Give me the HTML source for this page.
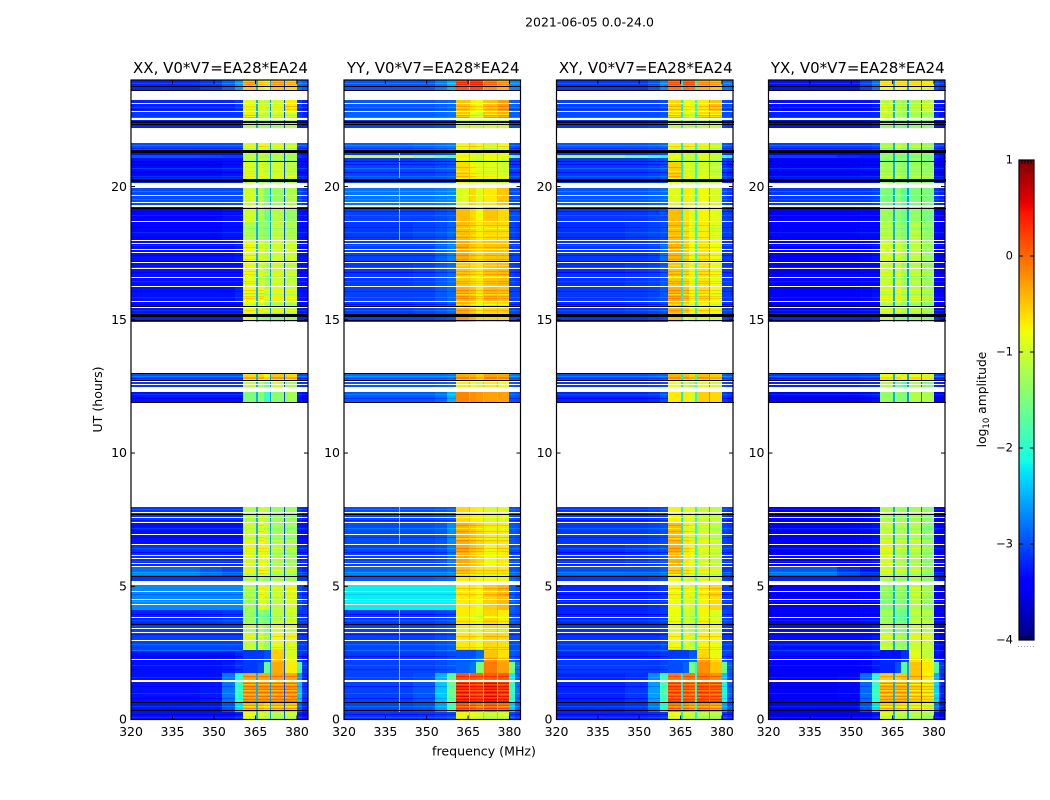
<!DOCTYPE html>
<html lang="en">
<head>
<meta charset="utf-8">
<title>2021-06-05 0.0-24.0</title>
<style>
html,body{margin:0;padding:0;background:#fff;width:1050px;height:800px;overflow:hidden}
svg{display:block}
text{font-family:"DejaVu Sans","Liberation Sans",sans-serif;fill:#000}
</style>
</head>
<body>
<svg id="chart" width="1050" height="800" viewBox="0 0 1050 800" xmlns="http://www.w3.org/2000/svg">
  <rect x="0" y="0" width="1050" height="800" fill="#fff"/>
  <text x="589.5" y="26.5" font-size="12.5" text-anchor="middle">2021-06-05 0.0-24.0</text>
  <text x="484" y="755.5" font-size="12.6" text-anchor="middle">frequency (MHz)</text>
  <text x="0" y="0" font-size="12.6" text-anchor="middle" transform="translate(102 399.5) rotate(-90)">UT (hours)</text>
  <text x="0" y="0" font-size="12.3" text-anchor="middle" transform="translate(986 399.5) rotate(-90)">log<tspan font-size="8.5" dy="3">10</tspan><tspan dy="-3"> amplitude</tspan></text>
  <g id="panels"></g>
  <g id="colorbar"></g>
</svg>
<script>
// Frequency bin edges (MHz); 14 bins: bg, bg, ramp, ramp, A, notch, B1, B2, notch, C, notch, D, E1, E2
const freqEdges = [320,345,353,357.5,360.5,365.2,365.8,368,370.3,370.8,375.3,375.8,380,382,384];
// Time row edges (UT hours), top to bottom
const timeEdges = [24,23.62,23.24,22.83,22.49,22.19,21.63,21.37,21.18,21.08,20.95,20.32,19.98,19.23,18.70,17.99,17.16,16.26,15.70,15.25,14.91,12.99,12.73,12.28,11.90,7.96,7.40,6.57,5.75,5.33,5.03,4.12,3.53,2.59,2.29,2.14,1.76,1.46,0.64,0.30,0];
const xTickValues = [320,335,350,365,380];
const yTickValues = [0,5,10,15,20];
const colorTickValues = [1,0,-1,-2,-3,-4];
const panelTitles = ["XX, V0*V7=EA28*EA24","YY, V0*V7=EA28*EA24","XY, V0*V7=EA28*EA24","YX, V0*V7=EA28*EA24"];

// log10 amplitude per time row: [bg, bg, ramp, ramp, A, B1, B2, C, D, E1, E2]; null = flagged row
const ampXX = [
[-3.2,-3.1,-2.9,-2.6,-0.5,-0.7,-0.8,-0.5,-0.6,-2.8,-2.9],
null,
[-3.2,-3.2,-3.2,-3.1,-0.9,-1.0,-1.1,-1.0,-0.7,-3.1,-3.2],
[-3.1,-3.1,-3.1,-3.1,-0.7,-0.9,-1.0,-0.9,-0.9,-3.1,-3.2],
[-3.2,-3.2,-3.2,-3.2,-1.2,-1.3,-1.3,-1.3,-1.2,-3.2,-3.2],
null,
[-3.0,-3.0,-3.0,-3.0,-1.0,-0.8,-0.9,-1.0,-1.1,-3.0,-3.0],
[-3.3,-3.3,-3.3,-3.3,-1.1,-1.0,-1.1,-1.1,-1.2,-3.3,-3.3],
[-2.95,-3.0,-3.05,-3.05,-1.1,-1.2,-1.3,-1.2,-1.3,-3.1,-3.2],
[-3.3,-3.3,-3.3,-3.3,-1.1,-1.0,-1.1,-1.1,-1.2,-3.3,-3.3],
[-3.35,-3.35,-3.3,-3.3,-0.95,-0.95,-1.05,-1.0,-1.1,-3.3,-3.3],
[-3.2,-3.2,-3.2,-3.2,-1.1,-1.1,-1.2,-1.2,-1.2,-3.2,-3.2],
[-3.0,-3.0,-3.0,-3.0,-1.0,-1.1,-1.5,-1.3,-1.2,-3.0,-3.1],
[-3.35,-3.35,-3.3,-3.3,-1.0,-1.2,-1.5,-1.15,-1.35,-3.3,-3.3],
[-3.35,-3.35,-3.3,-3.3,-1.2,-1.3,-1.4,-1.1,-1.2,-3.3,-3.3],
[-3.3,-3.3,-3.3,-3.25,-0.85,-0.95,-1.1,-1.0,-1.0,-3.3,-3.3],
[-3.3,-3.3,-3.3,-3.3,-0.85,-1.0,-1.2,-1.0,-1.1,-3.3,-3.3],
[-3.3,-3.3,-3.3,-3.2,-0.8,-0.85,-1.1,-1.0,-1.05,-3.3,-3.3],
[-3.3,-3.3,-3.3,-3.3,-0.85,-0.9,-1.1,-1.05,-1.1,-3.3,-3.3],
[-3.2,-3.2,-3.2,-3.2,-0.9,-1.3,-1.4,-1.5,-1.3,-3.2,-3.2],
null,
[-3.0,-3.0,-3.0,-3.0,-0.6,-0.6,-0.8,-0.5,-0.6,-3.0,-3.0],
[-3.1,-3.1,-3.1,-3.1,-1.1,-1.2,-1.6,-1.0,-1.3,-3.1,-3.1],
[-3.3,-3.3,-3.3,-3.3,-1.5,-1.4,-1.9,-1.4,-1.25,-3.3,-3.4],
null,
[-3.1,-3.1,-3.1,-3.1,-1.2,-1.0,-1.1,-1.3,-1.3,-3.1,-3.2],
[-3.3,-3.3,-3.3,-3.3,-1.0,-0.85,-1.0,-1.25,-1.3,-3.3,-3.3],
[-3.15,-3.15,-3.15,-3.15,-0.95,-0.85,-0.9,-1.2,-1.3,-3.2,-3.2],
[-2.85,-2.95,-3.05,-3.05,-1.0,-0.8,-0.9,-1.15,-1.2,-3.1,-3.2],
[-3.1,-3.1,-3.1,-3.1,-1.2,-1.2,-1.4,-1.2,-1.3,-3.1,-3.1],
[-2.7,-2.7,-2.7,-2.7,-1.3,-0.9,-1.0,-1.1,-0.95,-3.0,-3.1],
[-3.2,-3.15,-3.1,-3.1,-1.3,-1.4,-1.5,-1.1,-1.0,-3.1,-3.1],
[-3.05,-3.05,-3.05,-3.05,-1.05,-1.05,-1.3,-0.85,-0.9,-3.1,-3.1],
[-3.3,-3.3,-3.3,-3.2,-3.1,-3.1,-3.0,-0.55,-0.95,-3.1,-3.2],
[-3.3,-3.3,-3.3,-3.2,-3.1,-3.1,-3.0,-0.5,-0.85,-3.1,-3.2],
[-3.3,-3.3,-3.25,-3.15,-3.1,-3.0,-1.6,-0.35,-0.7,-1.8,-3.1],
[-3.3,-3.3,-2.8,-2.0,-0.35,-0.35,-0.35,-0.3,-0.35,-2.6,-3.2],
[-3.3,-3.25,-2.8,-1.9,-0.25,-0.25,-0.25,-0.25,-0.25,-2.4,-3.1],
[-3.3,-3.3,-3.0,-2.3,-0.45,-0.5,-0.6,-0.45,-0.5,-2.9,-3.2],
[-3.3,-3.3,-3.3,-3.2,-0.8,-0.9,-1.0,-1.1,-1.0,-3.2,-3.3]
];
const ampYY = [
[-2.95,-2.95,-2.75,-2.5,0.1,0.15,0.15,-0.2,-0.4,-2.7,-2.7],
null,
[-2.95,-2.95,-2.9,-2.85,-0.5,-0.7,-0.8,-0.5,-0.3,-2.9,-2.9],
[-2.9,-2.9,-2.85,-2.8,-0.5,-0.8,-0.9,-0.5,-0.4,-2.9,-2.9],
[-3.05,-3.05,-3.0,-3.0,-1.1,-1.0,-1.1,-1.0,-1.0,-3.0,-3.0],
null,
[-2.9,-2.85,-2.8,-2.75,-0.8,-0.7,-0.8,-1.0,-0.8,-2.95,-3.0],
[-3.1,-3.05,-3.0,-2.95,-0.8,-0.9,-1.0,-0.8,-0.9,-3.05,-3.1],
[-0.9,-1.2,-1.4,-1.6,-0.7,-0.9,-1.0,-0.8,-0.9,-1.5,-1.7],
[-3.1,-3.05,-3.0,-2.95,-0.8,-0.9,-1.0,-0.8,-0.9,-3.05,-3.1],
[-3.05,-3.05,-3.0,-2.95,-0.6,-0.75,-0.9,-0.9,-1.0,-3.1,-3.1],
[-3.0,-3.0,-3.0,-2.95,-0.8,-0.9,-1.0,-1.0,-1.0,-3.05,-3.1],
[-2.8,-2.8,-2.75,-2.7,-0.9,-0.6,-0.9,-0.7,-0.5,-3.0,-3.0],
[-3.05,-3.05,-3.0,-2.95,-0.45,-0.6,-0.8,-0.5,-0.6,-3.0,-3.0],
[-3.1,-3.05,-3.0,-2.9,-0.45,-0.55,-0.7,-0.6,-0.6,-3.05,-3.1],
[-3.05,-3.05,-2.9,-2.75,-0.35,-0.5,-0.6,-0.5,-0.5,-3.05,-3.05],
[-3.1,-3.05,-2.95,-2.85,-0.5,-0.6,-0.7,-0.5,-0.45,-3.05,-3.1],
[-3.05,-3.05,-2.95,-2.85,-0.4,-0.5,-0.7,-0.45,-0.5,-3.05,-3.05],
[-3.1,-3.05,-3.0,-2.9,-0.4,-0.55,-0.75,-0.6,-0.6,-3.05,-3.1],
[-3.05,-3.05,-3.0,-2.95,-0.25,-0.4,-0.6,-0.6,-0.6,-3.0,-3.0],
null,
[-2.85,-2.85,-2.85,-2.8,-0.35,-0.4,-0.55,-0.3,-0.35,-2.8,-2.85],
[-2.95,-2.95,-2.9,-2.85,-0.7,-0.8,-1.0,-0.7,-0.8,-2.9,-2.95],
[-2.95,-2.95,-2.85,-2.5,-0.15,-0.2,-0.25,-0.3,-0.3,-2.95,-3.0],
null,
[-3.0,-3.0,-2.95,-2.9,-0.6,-0.7,-0.75,-0.95,-0.9,-2.95,-3.0],
[-3.0,-3.0,-2.95,-2.7,-0.4,-0.5,-0.6,-0.7,-0.7,-2.95,-3.0],
[-3.05,-3.05,-3.0,-2.8,-0.35,-0.5,-0.6,-0.8,-0.7,-3.0,-3.0],
[-2.9,-2.9,-2.9,-2.85,-0.5,-0.6,-0.7,-0.7,-0.7,-2.95,-3.0],
[-2.95,-2.95,-2.9,-2.85,-0.7,-0.7,-0.8,-0.8,-0.8,-2.85,-2.95],
[-2.2,-2.2,-2.2,-2.2,-0.7,-0.7,-0.8,-0.55,-0.45,-2.9,-3.0],
[-3.1,-3.1,-3.05,-3.0,-0.7,-0.75,-0.85,-0.6,-0.7,-2.95,-3.0],
[-3.05,-3.05,-3.0,-2.95,-0.7,-0.7,-0.8,-0.6,-0.65,-3.0,-3.0],
[-3.1,-3.1,-3.05,-3.0,-3.0,-3.0,-2.85,-0.5,-0.65,-2.95,-3.0],
[-3.05,-3.05,-3.0,-2.95,-2.95,-2.9,-2.75,-0.2,-0.4,-2.85,-3.0],
[-3.05,-3.05,-3.0,-2.95,-2.9,-2.8,-1.5,-0.1,-0.3,-1.5,-2.8],
[-3.05,-3.0,-2.5,-1.7,0.1,0.05,0.0,0.05,0.05,-2.2,-2.9],
[-3.05,-2.95,-2.4,-1.6,0.3,0.25,0.22,0.35,0.25,-1.9,-2.8],
[-3.05,-3.0,-2.6,-1.9,0.1,0.0,-0.1,0.05,-0.05,-2.4,-2.9],
[-3.1,-3.1,-3.05,-3.0,-0.75,-0.8,-0.9,-1.0,-0.95,-3.0,-3.1]
];
const ampXY = [
[-3.1,-3.1,-2.95,-2.7,-0.1,-0.05,-0.1,-0.4,-0.5,-2.8,-2.8],
null,
[-3.05,-3.05,-3.05,-3.0,-0.6,-0.8,-0.9,-0.7,-0.5,-3.0,-3.0],
[-3.0,-3.0,-3.0,-2.95,-0.6,-0.8,-0.9,-0.6,-0.6,-3.0,-3.0],
[-3.1,-3.1,-3.05,-3.05,-1.1,-1.1,-1.2,-1.1,-1.1,-3.05,-3.1],
null,
[-2.95,-2.95,-2.9,-2.85,-0.8,-0.75,-0.85,-0.9,-1.1,-2.95,-3.0],
[-3.1,-3.1,-3.05,-3.0,-0.9,-1.0,-1.1,-0.9,-1.1,-3.05,-3.1],
[-1.2,-1.5,-1.8,-2.0,-0.8,-1.0,-1.1,-0.9,-1.1,-1.8,-2.0],
[-3.1,-3.1,-3.05,-3.0,-0.9,-1.0,-1.1,-0.9,-1.1,-3.05,-3.1],
[-3.1,-3.1,-3.05,-3.0,-0.55,-0.9,-1.0,-0.95,-1.1,-3.1,-3.2],
[-3.1,-3.1,-3.05,-3.0,-0.8,-1.0,-1.1,-1.1,-1.1,-3.1,-3.2],
[-2.95,-2.95,-2.9,-2.85,-0.9,-0.7,-0.95,-0.8,-0.95,-3.0,-3.1],
[-3.1,-3.1,-3.05,-3.0,-0.45,-0.65,-0.9,-0.75,-0.9,-3.05,-3.1],
[-3.15,-3.1,-3.05,-3.0,-0.45,-0.6,-0.85,-0.7,-0.9,-3.1,-3.1],
[-3.1,-3.1,-3.05,-2.85,-0.4,-0.55,-0.8,-0.65,-0.8,-3.1,-3.1],
[-3.15,-3.1,-3.05,-2.95,-0.5,-0.6,-0.85,-0.65,-0.8,-3.1,-3.1],
[-3.1,-3.1,-3.05,-2.95,-0.4,-0.5,-0.8,-0.65,-0.8,-3.1,-3.1],
[-3.15,-3.1,-3.05,-3.0,-0.45,-0.55,-0.85,-0.7,-0.85,-3.1,-3.1],
[-3.1,-3.1,-3.05,-3.0,-0.5,-0.8,-1.0,-0.9,-1.0,-3.05,-3.1],
null,
[-3.0,-3.0,-2.95,-2.9,-0.4,-0.45,-0.6,-0.45,-0.55,-2.9,-2.95],
[-3.1,-3.1,-3.05,-3.0,-0.8,-1.0,-1.3,-0.85,-1.0,-3.0,-3.05],
[-3.2,-3.2,-3.15,-3.0,-0.7,-0.7,-0.95,-0.55,-0.6,-3.1,-3.2],
null,
[-3.1,-3.1,-3.05,-3.0,-0.75,-0.85,-0.9,-1.05,-1.1,-3.05,-3.1],
[-3.1,-3.1,-3.05,-3.0,-0.45,-0.7,-0.85,-0.95,-1.1,-3.05,-3.1],
[-3.15,-3.1,-3.05,-3.0,-0.4,-0.7,-0.85,-1.0,-1.1,-3.1,-3.1],
[-3.0,-3.0,-3.0,-2.95,-0.55,-0.7,-0.85,-0.9,-1.0,-3.1,-3.1],
[-3.1,-3.1,-3.05,-3.0,-0.8,-0.9,-1.05,-0.95,-1.0,-3.05,-3.1],
[-3.2,-3.2,-3.15,-3.1,-0.8,-0.85,-1.0,-0.75,-0.6,-3.1,-3.1],
[-3.2,-3.2,-3.15,-3.1,-0.8,-0.95,-1.1,-0.75,-0.9,-3.05,-3.1],
[-3.1,-3.1,-3.1,-3.05,-0.8,-0.9,-1.1,-0.75,-0.8,-3.1,-3.1],
[-3.2,-3.2,-3.15,-3.1,-3.1,-3.1,-2.95,-0.6,-0.85,-3.05,-3.1],
[-3.1,-3.1,-3.1,-3.05,-3.0,-3.0,-2.85,-0.3,-0.6,-2.95,-3.1],
[-3.1,-3.1,-3.1,-3.05,-3.0,-2.9,-1.5,-0.2,-0.5,-1.6,-2.9],
[-3.2,-3.15,-2.7,-1.9,-0.1,-0.1,-0.1,-0.1,-0.2,-2.4,-3.0],
[-3.2,-3.1,-2.6,-1.8,0.1,0.05,0.0,0.1,0.05,-2.1,-2.9],
[-3.2,-3.15,-2.8,-2.1,-0.1,-0.2,-0.3,-0.2,-0.3,-2.6,-3.0],
[-3.2,-3.2,-3.15,-3.1,-0.8,-0.9,-1.0,-1.1,-1.1,-3.1,-3.2]
];
const ampYX = [
[-3.3,-3.3,-3.05,-2.8,-0.85,-0.8,-0.85,-0.85,-0.95,-3.0,-3.1],
null,
[-3.3,-3.3,-3.3,-3.25,-1.1,-1.2,-1.3,-1.2,-1.1,-3.25,-3.3],
[-3.2,-3.2,-3.2,-3.2,-0.95,-1.1,-1.2,-1.15,-1.2,-3.2,-3.3],
[-3.3,-3.3,-3.3,-3.25,-1.35,-1.4,-1.5,-1.4,-1.4,-3.25,-3.3],
null,
[-3.05,-3.05,-3.05,-3.0,-1.3,-1.1,-1.3,-1.25,-1.35,-3.05,-3.1],
[-3.4,-3.4,-3.35,-3.35,-1.35,-1.3,-1.4,-1.3,-1.4,-3.35,-3.4],
[-3.05,-3.15,-3.2,-3.2,-1.35,-1.5,-1.6,-1.5,-1.5,-3.2,-3.3],
[-3.4,-3.4,-3.35,-3.35,-1.35,-1.3,-1.4,-1.3,-1.4,-3.35,-3.4],
[-3.4,-3.4,-3.35,-3.35,-1.25,-1.25,-1.4,-1.3,-1.35,-3.35,-3.4],
[-3.3,-3.3,-3.3,-3.25,-1.3,-1.3,-1.4,-1.4,-1.4,-3.25,-3.3],
[-3.1,-3.1,-3.1,-3.05,-1.5,-1.4,-1.7,-1.5,-1.5,-3.1,-3.2],
[-3.4,-3.4,-3.35,-3.35,-1.3,-1.4,-1.6,-1.35,-1.5,-3.35,-3.4],
[-3.4,-3.4,-3.35,-3.35,-1.15,-1.25,-1.45,-1.15,-1.35,-3.35,-3.4],
[-3.4,-3.4,-3.35,-3.3,-1.0,-0.95,-1.25,-1.1,-1.3,-3.35,-3.4],
[-3.4,-3.4,-3.35,-3.35,-1.05,-1.0,-1.3,-1.15,-1.3,-3.35,-3.4],
[-3.4,-3.4,-3.35,-3.3,-1.05,-0.95,-1.25,-1.15,-1.3,-3.35,-3.4],
[-3.4,-3.4,-3.35,-3.35,-1.1,-1.05,-1.3,-1.2,-1.35,-3.35,-3.4],
[-3.2,-3.2,-3.2,-3.15,-1.05,-1.4,-1.5,-1.4,-1.45,-3.2,-3.3],
null,
[-3.1,-3.1,-3.05,-3.05,-0.85,-0.85,-1.0,-0.85,-0.95,-3.05,-3.1],
[-3.2,-3.2,-3.15,-3.15,-1.2,-1.5,-1.8,-1.2,-1.5,-3.15,-3.2],
[-3.4,-3.4,-3.35,-3.3,-1.35,-1.4,-1.5,-1.15,-1.2,-3.4,-3.4],
null,
[-3.4,-3.4,-3.35,-3.3,-1.2,-1.25,-1.3,-1.25,-1.4,-3.35,-3.4],
[-3.4,-3.4,-3.35,-3.3,-1.05,-1.15,-1.2,-1.15,-1.4,-3.35,-3.4],
[-3.4,-3.4,-3.35,-3.3,-1.0,-1.15,-1.25,-1.2,-1.4,-3.35,-3.4],
[-2.95,-3.15,-3.3,-3.3,-1.05,-1.1,-1.2,-1.15,-1.4,-3.35,-3.4],
[-3.2,-3.2,-3.2,-3.15,-1.2,-1.3,-1.4,-1.2,-1.4,-3.2,-3.3],
[-3.4,-3.4,-3.35,-3.35,-1.45,-1.4,-1.5,-1.15,-1.35,-3.35,-3.4],
[-3.4,-3.4,-3.35,-3.35,-1.25,-1.5,-1.6,-1.1,-1.15,-3.35,-3.4],
[-3.3,-3.3,-3.3,-3.25,-1.1,-1.25,-1.4,-1.0,-1.05,-3.3,-3.4],
[-3.3,-3.3,-3.3,-3.25,-3.3,-3.3,-3.15,-0.9,-1.1,-3.3,-3.4],
[-3.4,-3.4,-3.35,-3.25,-3.2,-3.2,-3.1,-0.65,-0.85,-3.2,-3.3],
[-3.4,-3.4,-3.35,-3.25,-3.2,-3.0,-1.7,-0.5,-0.7,-1.8,-3.1],
[-3.4,-3.35,-2.85,-2.0,-0.55,-0.55,-0.5,-0.5,-0.75,-2.5,-3.2],
[-3.4,-3.35,-2.85,-1.9,-0.4,-0.4,-0.4,-0.55,-0.65,-2.3,-3.2],
[-3.4,-3.4,-3.0,-2.3,-0.55,-0.6,-0.65,-0.75,-0.85,-2.8,-3.3],
[-3.4,-3.4,-3.35,-3.25,-0.9,-1.0,-1.1,-1.1,-1.2,-3.3,-3.4]
];
const panelAmps = [ampXX, ampYY, ampXY, ampYX];
// Notch (between sub-band) levels per panel: three gaps
const notchXX = [-2.5,-2.6,-3.0];
const notchYY = [-2.0,-1.9,-2.1];
const notchXY = [-2.2,-2.1,-2.4];
const notchYX = [-2.5,-2.6,-2.9];
const panelNotches = [notchXX, notchYY, notchXY, notchYX];
// Flagged (white) narrow time spans: [start, end] in UT hours
const flaggedSpans = [[23.13,23.09],[22.83,22.79],[22.57,22.49],[20.15,19.98],[19.68,19.64],[19.44,19.40],[19.30,19.23],[18.72,18.68],[17.99,17.95],[17.87,17.83],[17.65,17.61],[17.54,17.50],[17.16,17.12],[16.94,16.90],[16.60,16.56],[16.26,16.22],[15.72,15.68],[15.49,15.45],[12.69,12.65],[12.58,12.54],[12.47,12.43],[12.43,12.29],[7.77,7.73],[7.60,7.56],[7.40,7.36],[6.98,6.94],[6.57,6.53],[6.18,6.14],[6.06,6.02],[5.86,5.82],[5.75,5.71],[5.18,5.03],[4.83,4.79],[4.53,4.49],[4.34,4.30],[3.85,3.81],[3.44,3.40],[3.29,3.25],[2.99,2.95],[2.28,2.24],[1.50,1.43],[0.03,0.0]];
// Zero-amplitude (black) time spans: [start, end] in UT hours
const blackSpans = [[23.77,23.73],[23.64,23.59],[22.47,22.40],[22.36,22.32],[21.37,21.25],[20.95,20.91],[20.30,20.17],[19.21,19.17],[17.22,17.18],[15.53,15.49],[15.23,15.13],[14.98,14.95],[13.0,12.95],[12.73,12.69],[11.9,11.87],[7.72,7.68],[5.37,5.33],[3.59,3.55],[0.64,0.60],[0.34,0.30]];
// Brighter streak times inside the active sub-bands (UT hours)
const bandBrightHours = [23.92,23.85,23.02,22.93,22.68,22.62,21.52,20.75,20.52,20.40,18.55,18.32,18.1,17.75,17.42,17.3,16.82,16.72,16.47,16.38,16.12,16.02,15.9,15.82,15.35,12.87,12.8,7.3,7.18,7.06,6.85,6.72,6.45,6.33,5.62,5.5,4.95,4.7,3.7,3.15,2.72,2.63,1.62,1.38,1.27,1.15,1.02,0.9,0.78,0.7,0.55,0.45];
const bandBrightDeltas = [0.28,0.25,0.25,0.28];
// Dimmer streak times inside the active sub-bands (UT hours)
const bandDimHours = [23.0,22.72,21.45,21.0,20.6,18.45,18.2,17.65,17.05,16.65,15.95,15.6,12.78,7.2,6.8,6.25,5.45,4.6,3.9,3.35,1.33,1.1,0.95,0.83,0.5,0.15];
const bandDimDeltas = [-0.22,-0.22,-0.22,-0.22];
// Background ripple times and levels (UT hours, log10 offset)
const bgRippleHours = [23.9,23.45,23.0,22.9,22.6,21.55,21.45,20.85,20.7,20.55,20.4,19.85,19.7,19.55,19.1,18.95,18.5,18.3,18.1,17.8,17.45,17,16.8,16.45,16.1,15.85,15.6,15.35,12.9,12.8,12.2,12.05,7.9,7.5,7.2,6.85,6.45,6.3,5.95,5.55,5.45,4.7,4.45,3.95,3.75,3.2,2.85,2.6,2.4,2.05,1.9,1.6,1.25,1.0,0.8,0.5,0.2,0.1];
const bgRippleLevels = [0.25,-0.2,0.2,-0.2,0.2,0.25,-0.2,-0.2,0.25,-0.2,0.2,0.25,-0.25,0.2,-0.2,0.2,-0.2,0.2,-0.2,0.2,-0.2,0.2,-0.2,0.2,-0.2,0.2,-0.2,0.2,0.25,-0.2,0.2,-0.2,0.2,-0.2,0.2,-0.2,0.2,-0.2,0.2,0.3,0.2,-0.2,0.2,-0.2,0.2,-0.2,0.2,0.25,-0.2,0.2,-0.2,0.2,-0.2,0.2,-0.2,0.2,-0.2,0.2];
// Narrowband RFI on YY only: frequency (MHz), level, and the row indices where it shows
const rfiFreqYY = [339.9];
const rfiLevelYY = [-2.1];
const rfiRowsYY = [7,9,10,12,13,14,25,26,31,32,33,34,35,36,37,38];

const SVGNS = "http://www.w3.org/2000/svg";
const panelBoxes = [[131,308],[344,520.5],[556.5,733],[768.5,945]];
const plotTop = 80, plotBottom = 719.5;
const fMin = 320, fMax = 384, tMin = 0, tMax = 24;
const cbLeft = 1019, cbRight = 1034, cbTop = 160, cbBottom = 640, vMin = -4, vMax = 1;

function xScale(box, f){ return box[0] + (f - fMin) / (fMax - fMin) * (box[1] - box[0]); }
function yScale(t){ return plotBottom - (t - tMin) / (tMax - tMin) * (plotBottom - plotTop); }
function cScale(v){ return cbBottom - (v - vMin) / (vMax - vMin) * (cbBottom - cbTop); }
function ramp(t, pts){
  for (let i = 1; i < pts.length; i++) {
    if (t <= pts[i][0]) {
      const a = pts[i-1], b = pts[i];
      return a[1] + (b[1]-a[1]) * (t-a[0]) / (b[0]-a[0]);
    }
  }
  return pts[pts.length-1][1];
}
function jet(v){
  const t = Math.max(0, Math.min(1, (v - vMin) / (vMax - vMin)));
  const r = ramp(t, [[0,0],[0.35,0],[0.66,1],[0.89,1],[1,0.5]]);
  const g = ramp(t, [[0,0],[0.125,0],[0.375,1],[0.64,1],[0.91,0],[1,0]]);
  const b = ramp(t, [[0,0.5],[0.11,1],[0.34,1],[0.65,0],[1,0]]);
  return "rgb(" + Math.round(r*255) + "," + Math.round(g*255) + "," + Math.round(b*255) + ")";
}
function mk(tag, attrs, parent){
  const el = document.createElementNS(SVGNS, tag);
  for (const k in attrs) el.setAttribute(k, attrs[k]);
  parent.appendChild(el);
  return el;
}
function cellValues(row, notch){
  return [row[0],row[1],row[2],row[3],row[4],
    Math.min(notch[0], row[4], row[5]) , row[5], row[6],
    Math.min(notch[1], row[6]), row[7],
    Math.min(notch[2], row[7]), row[8], row[9], row[10]];
}
function rowAt(t){
  for (let i = 0; i < timeEdges.length - 1; i++) {
    if (t <= timeEdges[i] && t > timeEdges[i+1]) return i;
  }
  return -1;
}
// indices of cells (14-bin layout) that are active sub-bands / background
const bandCells = [4,6,7,9,11];
const bgCells = [0,1,2,3,12,13];

const panelsRoot = document.getElementById("panels");
panelBoxes.forEach(function(box, p){
  const g = mk("g", {}, panelsRoot);
  
  
  const cells = mk("g", {"shape-rendering":"crispEdges"}, g);
  
  
  function cellX(c){ return [Math.round(xScale(box, freqEdges[c])), Math.round(xScale(box, freqEdges[c+1]))]; }
  panelAmps[p].forEach(function(row, r){
    if (row === null) return;
    const y0 = Math.round(yScale(timeEdges[r])), y1 = Math.round(yScale(timeEdges[r+1]));
    cellValues(row, panelNotches[p]).forEach(function(v, c){
      const xs = cellX(c);
      const cell = mk("rect", {x:xs[0], y:y0, width:Math.max(1,xs[1]-xs[0]), height:Math.max(1,y1-y0), fill:jet(v)}, cells);
      
      
    });
  });
  function drawBandStreak(t, delta){
    const r = rowAt(t);
    if (r < 0 || panelAmps[p][r] === null) return;
    const vals = cellValues(panelAmps[p][r], panelNotches[p]);
    bandCells.forEach(function(c){
      if (vals[c] < -2) return;
      const xs = cellX(c);
      const s = mk("rect", {x:xs[0], y:Math.round(yScale(t)), width:Math.max(1,xs[1]-xs[0]), height:1, fill:jet(vals[c]+delta)}, cells);
      
      
    });
  }
  bandBrightHours.forEach(function(t){ drawBandStreak(t, bandBrightDeltas[p]); });
  bandDimHours.forEach(function(t){ drawBandStreak(t, bandDimDeltas[p]); });
  bgRippleHours.forEach(function(t, i){
    const r = rowAt(t);
    if (r < 0 || panelAmps[p][r] === null) return;
    const vals = cellValues(panelAmps[p][r], panelNotches[p]);
    bgCells.forEach(function(c){
      const xs = cellX(c);
      const s = mk("rect", {x:xs[0], y:Math.round(yScale(t)), width:Math.max(1,xs[1]-xs[0]), height:1, fill:jet(vals[c]+bgRippleLevels[i])}, cells);
      
      
    });
  });
  if (p === 1) {
    rfiRowsYY.forEach(function(r){
      const y0 = Math.round(yScale(timeEdges[r])), y1 = Math.round(yScale(timeEdges[r+1]));
      const line = mk("rect", {x:Math.round(xScale(box, rfiFreqYY[0])), y:y0, width:1, height:Math.max(1,y1-y0), fill:jet(rfiLevelYY[0])}, cells);
      
      
    });
  }
  flaggedSpans.forEach(function(s){
    const y0 = Math.round(yScale(s[0]));
    const h = Math.max(1, Math.round(yScale(s[1]) - yScale(s[0])));
    const band = mk("rect", {x:Math.round(box[0]), y:y0, width:Math.round(box[1]-box[0]), height:h, fill:"#fff"}, cells);
    
    
  });
  blackSpans.forEach(function(s){
    const y0 = Math.round(yScale(s[0]));
    const h = Math.max(1, Math.round(yScale(s[1]) - yScale(s[0])));
    const band = mk("rect", {x:Math.round(box[0]), y:y0, width:Math.round(box[1]-box[0]), height:h, fill:"#000"}, cells);
    
    
  });
  const frame = mk("rect", {x:box[0], y:plotTop, width:box[1]-box[0], height:plotBottom-plotTop, fill:"none", stroke:"#000", "stroke-width":1.2}, g);
  
  
  const title = mk("text", {x:(box[0]+box[1])/2 + 1, y:73, "font-size":15, "text-anchor":"middle"}, g);
  title.textContent = panelTitles[p];
  
  
  xTickValues.forEach(function(f){
    const x = xScale(box, f);
    [[plotBottom, plotBottom-4],[plotTop, plotTop+4]].forEach(function(e){
      const tick = mk("line", {x1:x, x2:x, y1:e[0], y2:e[1], stroke:"#000", "stroke-width":1}, g);
      
      
    });
    const lab = mk("text", {x:x, y:plotBottom+16.5, "font-size":12.5, "text-anchor":"middle"}, g);
    lab.textContent = String(f);
    
    
  });
  yTickValues.forEach(function(t){
    const y = yScale(t);
    [[box[0], box[0]+4],[box[1], box[1]-4]].forEach(function(e){
      const tick = mk("line", {x1:e[0], x2:e[1], y1:y, y2:y, stroke:"#000", "stroke-width":1}, g);
      
      
    });
    const lab = mk("text", {x:box[0]-4, y:y+4.2, "font-size":12.5, "text-anchor":"end"}, g);
    lab.textContent = String(t);
    
    
  });
});

const cb = document.getElementById("colorbar");
for (let y = cbTop; y < cbBottom; y++) {
  const v = vMin + (cbBottom - y - 0.5) / (cbBottom - cbTop) * (vMax - vMin);
  const strip = mk("rect", {x:cbLeft, y:y, width:cbRight-cbLeft, height:1, fill:jet(v), "shape-rendering":"crispEdges"}, cb);
  
  
}
const cbFrame = mk("rect", {x:cbLeft, y:cbTop, width:cbRight-cbLeft, height:cbBottom-cbTop, fill:"none", stroke:"#000", "stroke-width":1.2}, cb);


colorTickValues.forEach(function(v){
  const y = cScale(v);
  [[cbLeft, cbLeft+4],[cbRight, cbRight-4]].forEach(function(e){
    const tick = mk("line", {x1:e[0], x2:e[1], y1:y, y2:y, stroke:"#000", "stroke-width":1}, cb);
    
    
  });
  const lab = mk("text", {x:cbLeft-6, y:y+3.5, "font-size":11.5, "text-anchor":"end"}, cb);
  lab.textContent = String(v).replace("-", "\u2212");
  
  
});
[1022,1025,1028,1031].forEach(function(x){
  [[cbTop, cbTop+4],[cbBottom, cbBottom-4]].forEach(function(e){
    const tick = mk("line", {x1:x, x2:x, y1:e[0], y2:e[1], stroke:"#000", "stroke-width":1}, cb);
    
    
  });
});
[1018,1021,1024,1027,1030,1033].forEach(function(x){
  const dot = mk("rect", {x:x, y:646, width:1, height:1, fill:"#999"}, cb);
  
  
});
</script>
</body>
</html>
